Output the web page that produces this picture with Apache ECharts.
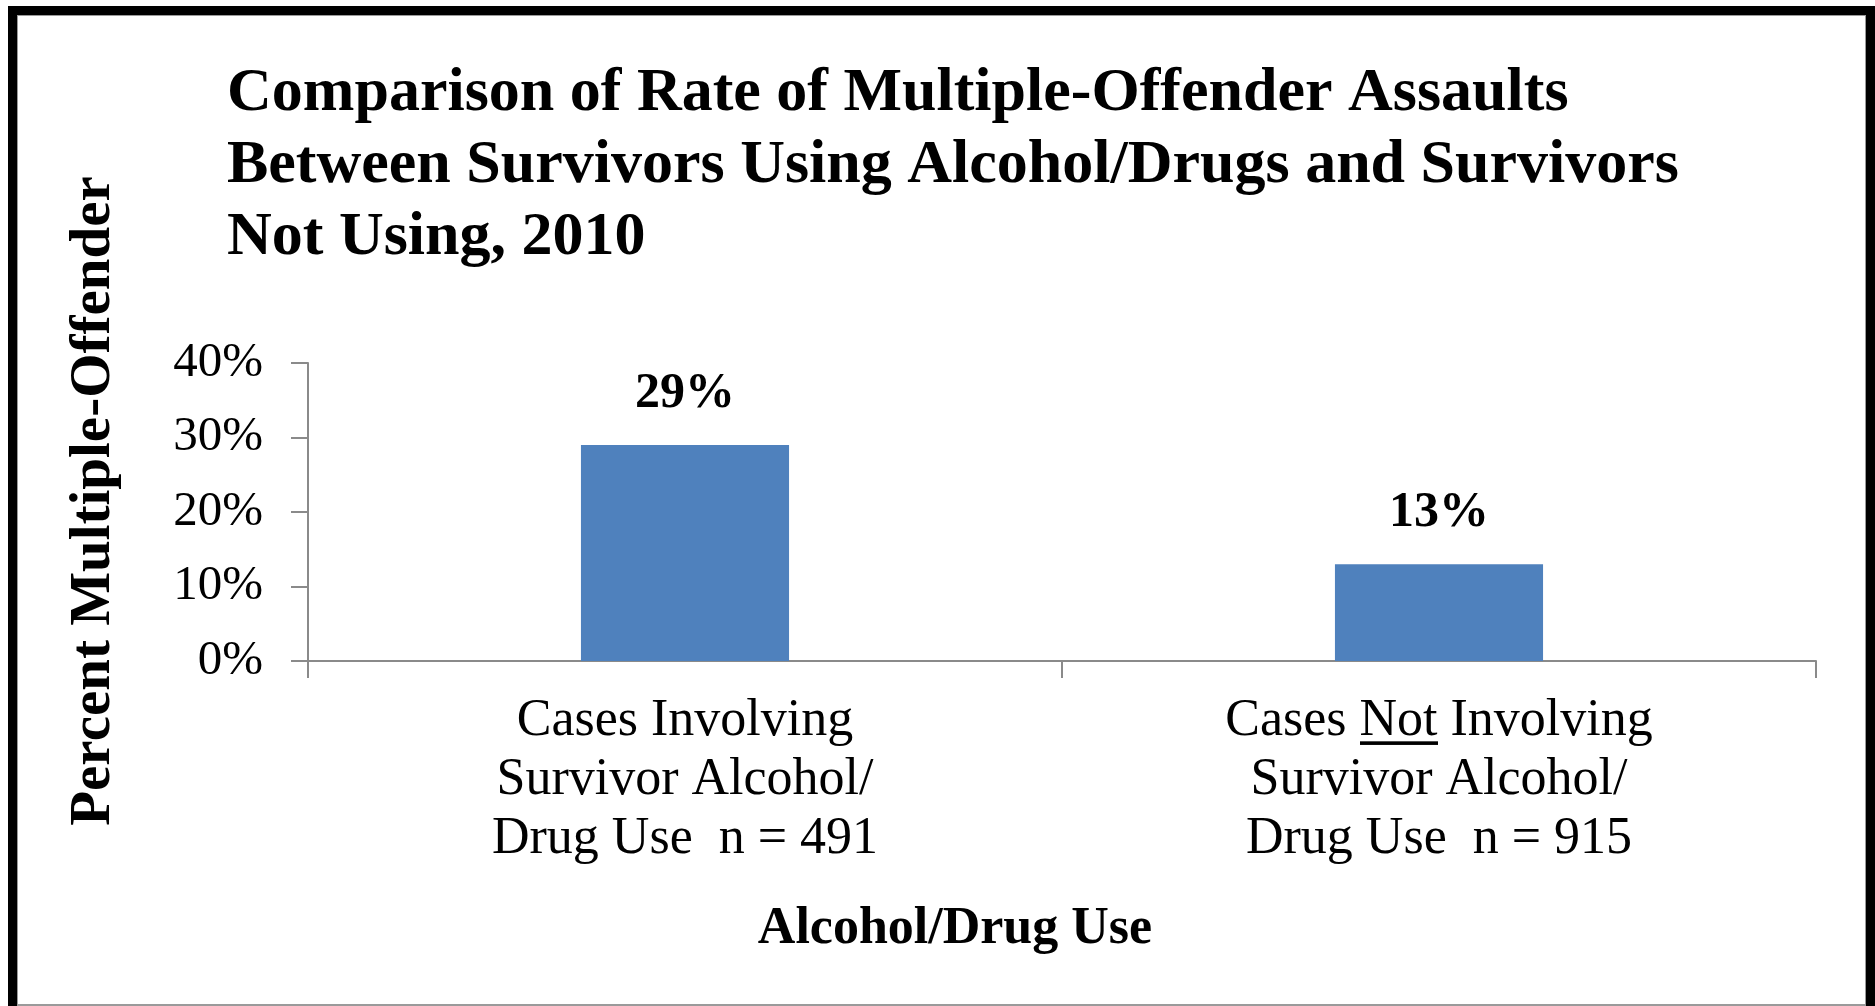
<!DOCTYPE html>
<html>
<head>
<meta charset="utf-8">
<script src="https://cdn.jsdelivr.net/npm/echarts@6/dist/echarts.min.js"></script>
<style>
html,body{margin:0;padding:0;background:#fff;}
#chart{width:1875px;height:1006px;}
</style>
</head>
<body>
<div id="chart"></div>
<script>
// ---- data ----
const titleText = 'Comparison of Rate of Multiple-Offender Assaults\nBetween Survivors Using Alcohol/Drugs and Survivors\nNot Using, 2010';
const categories = [
  'Cases Involving\nSurvivor Alcohol/\nDrug Use  n = 491',
  'Cases Not Involving\nSurvivor Alcohol/\nDrug Use  n = 915'
];
const values = [0.29, 0.13];
const yAxisTitle = 'Percent Multiple-Offender';
const xAxisTitle = 'Alcohol/Drug Use';
const yMin = 0, yMax = 0.4, yStep = 0.1;

// underline image for rich text ("Not")
const LH = 59;
const ul = document.createElement('canvas');
ul.width = 10; ul.height = LH;
const uctx = ul.getContext('2d');
uctx.fillStyle = '#000';
uctx.fillRect(0, 52, 10, 4);

const serif = '"Liberation Serif", "Times New Roman", serif';
const chart = echarts.init(document.getElementById('chart'), null, {renderer: 'canvas'});
const pct = v => Math.round(v * 100) + '%';

chart.setOption({
  backgroundColor: '#fff',
  animation: false,
  title: {
    text: titleText,
    left: 227,
    top: 58,
    padding: 0,
    textStyle: {fontFamily: serif, fontWeight: 'bold', fontSize: 62, lineHeight: 72, color: '#000'}
  },
  grid: {left: 308, right: 59, top: 363, bottom: 345, containLabel: false},
  xAxis: {
    type: 'category',
    data: categories,
    axisLine: {lineStyle: {color: '#8a8a8a', width: 2}},
    axisTick: {show: true, length: 17, lineStyle: {color: '#8a8a8a', width: 2}},
    axisLabel: {
      interval: 0,
      margin: 31,
      fontFamily: serif, fontSize: 52, lineHeight: LH, color: '#000',
      formatter: v => v.replace(' Not ', ' {u|Not} '),
      rich: {
        u: {fontFamily: serif, fontSize: 52, lineHeight: LH, color: '#000',
            backgroundColor: {image: ul}}
      }
    },
    name: xAxisTitle,
    nameLocation: 'middle',
    nameGap: 243,
    nameTextStyle: {fontFamily: serif, fontWeight: 'bold', fontSize: 52, color: '#000', padding: [0, 214, 0, 0]}
  },
  yAxis: {
    type: 'value',
    min: yMin, max: yMax, interval: yStep,
    splitLine: {show: false},
    axisLine: {show: true, lineStyle: {color: '#8a8a8a', width: 2}},
    axisTick: {show: true, length: 17, lineStyle: {color: '#8a8a8a', width: 2}},
    axisLabel: {margin: 45, fontFamily: serif, fontSize: 49, color: '#000', formatter: pct},
    name: yAxisTitle,
    nameLocation: 'middle',
    nameRotate: 90,
    nameGap: 185,
    nameTextStyle: {fontFamily: serif, fontWeight: 'bold', fontSize: 57, color: '#000', padding: [0, 0, 0, 22]}
  },
  series: [{
    type: 'bar',
    data: values,
    barWidth: '27.6%',
    itemStyle: {color: '#4F81BD'},
    label: {
      show: true, position: 'top', distance: 26,
      fontFamily: serif, fontWeight: 'bold', fontSize: 50, color: '#000',
      formatter: p => pct(p.value)
    }
  }],
  graphic: [
    {type: 'rect', shape: {x: 8, y: 6, width: 9, height: 1000}, style: {fill: '#000'}},
    {type: 'rect', shape: {x: 8, y: 6, width: 1867, height: 9}, style: {fill: '#000'}},
    {type: 'rect', shape: {x: 1866, y: 6, width: 9, height: 1000}, style: {fill: '#000'}},
    {type: 'rect', shape: {x: 17, y: 15, width: 1, height: 991}, style: {fill: '#9a9a9a'}},
    {type: 'rect', shape: {x: 17, y: 15, width: 1849, height: 1}, style: {fill: '#9a9a9a'}},
    {type: 'rect', shape: {x: 1865, y: 15, width: 1, height: 991}, style: {fill: '#9a9a9a'}},
    {type: 'rect', shape: {x: 17, y: 1004, width: 1849, height: 2}, style: {fill: '#9a9a9a'}}
  ]
});
</script>
</body>
</html>
